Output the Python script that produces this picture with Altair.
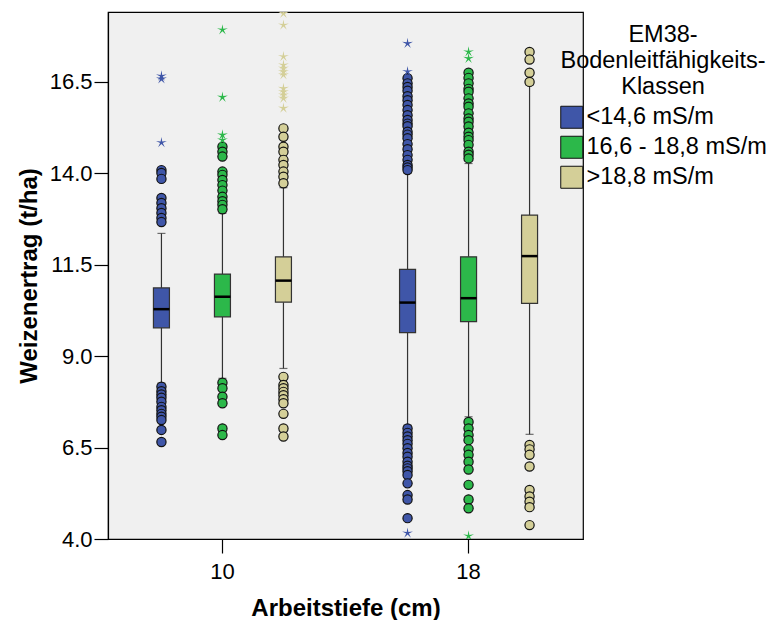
import altair as alt
import pandas as pd

# ---------------- data ----------------
groups = ["10", "18"]
classes = ["<14,6 mS/m", "16,6 - 18,8 mS/m", ">18,8 mS/m"]
colors = ["#3F56A8", "#2CB84A", "#D4CF98"]

# box statistics, order: (10,blue),(10,green),(10,tan),(18,blue),(18,green),(18,tan)
box_group = ["10", "10", "10", "18", "18", "18"]
box_class = classes + classes
q1 = [9.77, 10.07, 10.47, 9.64, 9.94, 10.44]
med = [10.28, 10.62, 11.06, 10.46, 10.58, 11.73]
q3 = [10.86, 11.24, 11.71, 11.37, 11.71, 12.85]
whisker_lo = [8.26, 8.39, 8.66, 7.11, 7.34, 6.86]
whisker_hi = [12.35, 12.90, 13.60, 13.99, 14.26, 16.40]

# outliers (circles)
out_10_blue = [14.08, 14.00, 13.84, 13.32, 13.18, 13.04, 12.91, 12.77, 12.66,
               8.16, 8.04, 7.95, 7.86, 7.75, 7.61, 7.52, 7.42, 7.34, 7.25, 6.98, 6.65]
out_10_green = [14.72, 14.58, 14.45, 14.04, 13.95, 13.81, 13.67, 13.52, 13.35, 13.23, 13.13, 13.01,
                8.27, 8.12, 7.89, 7.71, 7.02, 6.84]
out_10_tan = [15.22, 14.99, 14.72, 14.58, 14.36, 14.22, 14.04, 13.90, 13.72,
              8.43, 8.21, 8.12, 8.02, 7.93, 7.82, 7.71, 7.42, 7.02, 6.80]
out_18_blue = [16.59, 16.45, 16.35, 16.25, 16.10, 15.99, 15.86, 15.72, 15.58, 15.45, 15.35, 15.28,
               15.13, 15.05, 14.95, 14.79, 14.65, 14.49, 14.36, 14.22, 14.15, 14.08,
               7.02, 6.90, 6.80, 6.70, 6.60, 6.48, 6.35, 6.25, 6.11, 6.00, 5.93, 5.85, 5.75,
               5.52, 5.20, 5.08, 4.57]
out_18_green = [16.74, 16.60, 16.45, 16.30, 16.22, 16.04, 15.90, 15.81, 15.63, 15.49, 15.40, 15.27,
                15.10, 14.99, 14.90, 14.77, 14.58, 14.50, 14.40,
                7.20, 7.02, 6.84, 6.70, 6.45, 6.30, 6.11, 5.90, 5.48, 5.08, 4.84]
out_18_tan = [17.31, 17.10, 16.74, 16.49,
              6.57, 6.45, 6.30, 5.98, 5.34, 5.16, 5.02, 4.87, 4.38]

# extreme values (stars)
star_10_blue = [16.65, 16.57, 14.83]
star_10_green = [17.91, 16.07, 15.04, 14.90]
star_10_tan = [18.36, 18.04, 17.18, 16.95, 16.86, 16.77, 16.68, 16.31, 16.22, 16.13, 16.04, 15.77]
star_18_blue = [17.54, 16.77, 4.16]
star_18_green = [17.31, 17.13, 4.08]
star_18_tan = []

# ---------------- tables ----------------
boxes = pd.DataFrame({
    "group": box_group, "cls": box_class, "q1": q1, "med": med, "q3": q3,
    "lo": whisker_lo, "hi": whisker_hi,
})

out_lists = [out_10_blue, out_10_green, out_10_tan, out_18_blue, out_18_green, out_18_tan]
star_lists = [star_10_blue, star_10_green, star_10_tan, star_18_blue, star_18_green, star_18_tan]

def long_table(lists):
    rows = []
    for g, c, vals in zip(box_group, box_class, lists):
        for v in vals:
            rows.append({"group": g, "cls": c, "value": v})
    return pd.DataFrame(rows)

outliers = long_table(out_lists)
stars = long_table(star_lists)

# ---------------- encodings ----------------
FONT = "Liberation Sans"

x_enc = alt.X("group:N",
              scale=alt.Scale(domain=groups, paddingInner=0.07, paddingOuter=0),
              axis=alt.Axis(title="Arbeitstiefe (cm)", labelAngle=0, labelFontSize=22,
                            tickSize=14, labelPadding=8, titleFontSize=24,
                            titleFontWeight="bold", titlePadding=14))
xo_enc = alt.XOffset("cls:N", scale=alt.Scale(domain=classes, paddingInner=0, paddingOuter=0.376))
y_scale = alt.Scale(domain=[4, 18.4], nice=False, zero=False)
y_axis = alt.Axis(title="Weizenertrag (t/ha)", values=[4.0, 6.5, 9.0, 11.5, 14.0, 16.5],
                  format=".1f", labelFontSize=22, tickSize=14, labelPadding=2,
                  titleFontSize=24, titleFontWeight="bold", titlePadding=8)
color_scale = alt.Scale(domain=classes, range=colors)

legend = alt.Legend(
    title=["EM38-", "Bodenleitfähigkeits-", "Klassen"],
    orient="none", legendX=452, legendY=11,
    titleFontSize=23.5, titleFontWeight="normal", titleAnchor="middle", titleAlign="center",
    titleLineHeight=26, titlePadding=7, titleColor="black", titleLimit=1000,
    labelFontSize=23.5, labelColor="black", labelOffset=3, labelLimit=1000,
    symbolType="square", symbolSize=484, symbolStrokeColor="#222", symbolStrokeWidth=1,
    symbolOpacity=1, rowPadding=3, padding=0,
)

star_path = ("M0,-1L0.147,-0.202L0.951,-0.309L0.238,0.077L0.588,0.809L0,0.25"
             "L-0.588,0.809L-0.238,0.077L-0.951,-0.309L-0.147,-0.202Z")

base = alt.Chart(boxes)

whisk_lo = base.mark_rule(color="#333", strokeWidth=1.2).encode(
    x=x_enc, xOffset=xo_enc, y=alt.Y("lo:Q", scale=y_scale, axis=y_axis), y2="q1:Q")
whisk_hi = base.mark_rule(color="#333", strokeWidth=1.2).encode(
    x=x_enc, xOffset=xo_enc, y=alt.Y("q3:Q"), y2="hi:Q")
cap_lo = base.mark_tick(color="#333", size=8, thickness=1.2).encode(
    x=x_enc, xOffset=xo_enc, y=alt.Y("lo:Q"))
cap_hi = base.mark_tick(color="#333", size=8, thickness=1.2).encode(
    x=x_enc, xOffset=xo_enc, y=alt.Y("hi:Q"))
box = base.mark_bar(size=16, stroke="#333", strokeWidth=1.2, opacity=1).encode(
    x=x_enc, xOffset=xo_enc, y=alt.Y("q1:Q"), y2="q3:Q",
    color=alt.Color("cls:N", scale=color_scale, legend=legend))
median = base.mark_tick(color="black", size=16, thickness=2.5, opacity=1).encode(
    x=x_enc, xOffset=xo_enc, y=alt.Y("med:Q"))

circles = alt.Chart(outliers).mark_point(
    shape="circle", filled=True, size=85, stroke="#111", strokeWidth=1.2, opacity=1, clip=True
).encode(x=x_enc, xOffset=xo_enc, y=alt.Y("value:Q"),
         color=alt.Color("cls:N", scale=color_scale))

star_marks = alt.Chart(stars).mark_point(
    shape=star_path, filled=True, size=130, opacity=1, strokeWidth=0, clip=True
).encode(x=x_enc, xOffset=xo_enc, y=alt.Y("value:Q"),
         color=alt.Color("cls:N", scale=color_scale))

chart = alt.layer(
    whisk_lo, whisk_hi, cap_lo, cap_hi, box, median, circles, star_marks
).properties(
    width=475, height=527,
    autosize=alt.AutoSizeParams(type="none"),
    padding={"left": 108, "top": 12, "right": 190, "bottom": 81},
).configure(
    font=FONT,
).configure_view(
    fill="#F0F0F0", stroke="black", strokeWidth=1.2,
).configure_axis(
    grid=False, domainColor="black", domainWidth=1.2, tickColor="black", tickWidth=1.2,
    labelColor="black", titleColor="black", labelFont=FONT, titleFont=FONT,
).configure_legend(
    labelFont=FONT, titleFont=FONT,
)

chart.save("out.html", embed_options={"renderer": "svg", "actions": False})
